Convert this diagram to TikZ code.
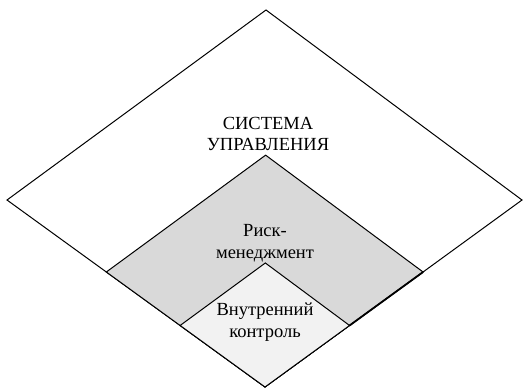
\documentclass[tikz,border=0pt]{standalone}
\usepackage{fontspec}
\usetikzlibrary{calc}
\setmainfont{Liberation Serif}
\definecolor{riskgray}{HTML}{D9D9D9}
\definecolor{ctrlgray}{HTML}{F2F2F2}
\tikzset{
  zone/.style={draw=black, line width=1pt, line join=miter},
  lbl/.style={align=center, font=\fontsize{18.5}{21.5}\selectfont, inner sep=0pt},
}
\begin{document}
\begin{tikzpicture}[x=1pt,y=-1pt]
\useasboundingbox (0,0) rectangle (527,389);
% outer diamond
\coordinate (oT) at (266,10);
\coordinate (oL) at (7,200);
\coordinate (oR) at (522,200);
\coordinate (oB) at (265,387);
% risk diamond (scaled about the shared bottom vertex)
\coordinate (rT) at ($(oB)!0.615!(oT)$);
\coordinate (rL) at ($(oB)!0.615!(oL)$);
\coordinate (rR) at ($(oB)!0.615!(oR)$);
% control diamond
\coordinate (cT) at ($(oB)!0.329!(oT)$);
\coordinate (cL) at ($(oB)!0.329!(oL)$);
\coordinate (cR) at ($(oB)!0.329!(oR)$);
\path[zone, fill=white] (oT) -- (oR) -- (oB) -- (oL) -- cycle;
\path[zone, fill=riskgray] (rT) -- (rR) -- (oB) -- (rL) -- cycle;
\path[zone, fill=ctrlgray] (cT) -- (cR) -- (oB) -- (cL) -- cycle;
\draw[line width=1.8pt] (rR) -- (cR);
\node[lbl] (sys) at (268,134) {СИСТЕМА\\УПРАВЛЕНИЯ};
\node[lbl] (risk) at (265,243) {Риск-\\менеджмент};
\node[lbl] (ctrl) at (265,322) {Внутренний\\контроль};
\end{tikzpicture}
\end{document}
